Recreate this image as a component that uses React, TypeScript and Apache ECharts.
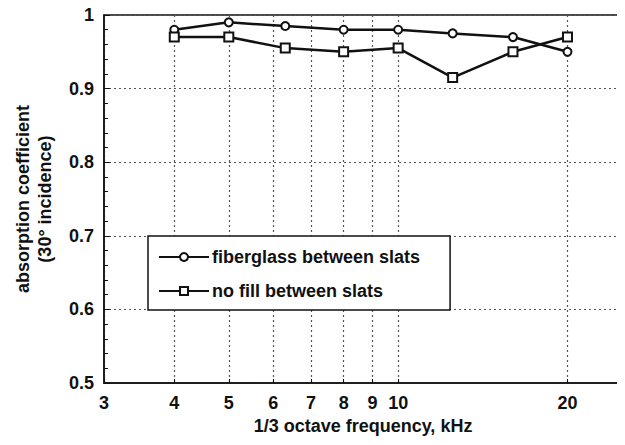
import React, { useEffect, useRef } from "react";
import * as echarts from "echarts";

const frequencies = [4, 5, 6.3, 8, 10, 12.5, 16, 20];
const fiberglass = [0.98, 0.99, 0.985, 0.98, 0.98, 0.975, 0.97, 0.95];
const noFill = [0.97, 0.97, 0.955, 0.95, 0.955, 0.915, 0.95, 0.97];
const xTickValues = [3, 4, 5, 6, 7, 8, 9, 10, 20];
const seriesNames = ["fiberglass between slats", "no fill between slats"];

const FONT = "'Liberation Sans', Arial, Helvetica, sans-serif";
const TXT = { fontSize: 18, fontWeight: "bold", color: "#111", fontFamily: FONT };

export default function App() {
  const ref = useRef<HTMLDivElement>(null);
  useEffect(() => {
    if (!ref.current) return;
    const chart = echarts.init(ref.current, undefined, { renderer: "svg" });
    const toPairs = (ys: number[]) => frequencies.map((f, i) => [f, ys[i]]);
    chart.setOption({
      animation: false,
      backgroundColor: "#ffffff",
      textStyle: { fontFamily: FONT },
      grid: {
        left: 104,
        right: 3,
        top: 15,
        bottom: 62,
        show: true,
        borderColor: "#111",
        borderWidth: 1.5,
        backgroundColor: "transparent",
      },
      legend: {
        left: 148,
        top: 236,
        orient: "vertical",
        backgroundColor: "#ffffff",
        borderColor: "#111",
        borderWidth: 1.5,
        padding: [12, 30, 10, 10],
        itemGap: 16,
        itemWidth: 50,
        itemHeight: 10,
        textStyle: { ...TXT, padding: [0, 0, 0, -2] },
        data: seriesNames,
      },
      xAxis: {
        type: "log",
        logBase: 10,
        min: 3,
        max: 25,
        name: "1/3 octave frequency, kHz",
        nameLocation: "middle",
        nameGap: 27,
        nameTextStyle: TXT,
        axisLine: { show: true, lineStyle: { color: "#111", width: 1.5 } },
        axisTick: { show: true, inside: true, length: 4, customValues: xTickValues, lineStyle: { color: "#111" } },
        axisLabel: {
          ...TXT,
          customValues: xTickValues,
          margin: 11,
          formatter: (v: number) => String(Math.round(v)),
        },
        splitLine: { show: true, lineStyle: { type: [2, 3], color: "#555", width: 1.2 } },
        minorTick: { show: false },
        minorSplitLine: { show: false },
      },
      yAxis: {
        type: "value",
        min: 0.5,
        max: 1,
        interval: 0.1,
        name: "absorption coefficient\n(30° incidence)",
        nameLocation: "middle",
        nameRotate: 90,
        nameGap: 48,
        nameTextStyle: { ...TXT, lineHeight: 22 },
        axisLine: { show: true, lineStyle: { color: "#111", width: 1.5 } },
        axisTick: { show: true, inside: true, length: 6, lineStyle: { color: "#111" } },
        minorTick: { show: true, splitNumber: 5, length: 4, lineStyle: { color: "#111" } },
        axisLabel: {
          ...TXT,
          margin: 10,
          formatter: (v: number) => (Math.abs(v - 1) < 1e-9 ? "1" : v.toFixed(1)),
        },
        splitLine: { show: true, lineStyle: { type: [2, 3], color: "#555", width: 1.2 } },
      },
      series: [
        {
          name: seriesNames[0],
          type: "line",
          data: toPairs(fiberglass),
          symbol: "circle",
          symbolSize: 8,
          lineStyle: { color: "#111", width: 2.5 },
          itemStyle: { color: "#ffffff", borderColor: "#111", borderWidth: 2 },
          z: 3,
        },
        {
          name: seriesNames[1],
          type: "line",
          data: toPairs(noFill),
          symbol: "rect",
          symbolSize: 9,
          lineStyle: { color: "#111", width: 2.5 },
          itemStyle: { color: "#ffffff", borderColor: "#111", borderWidth: 2 },
          z: 3,
        },
      ],
    });
    return () => chart.dispose();
  }, []);
  return <div ref={ref} style={{ width: 625, height: 445, margin: -8 }} />;
}
